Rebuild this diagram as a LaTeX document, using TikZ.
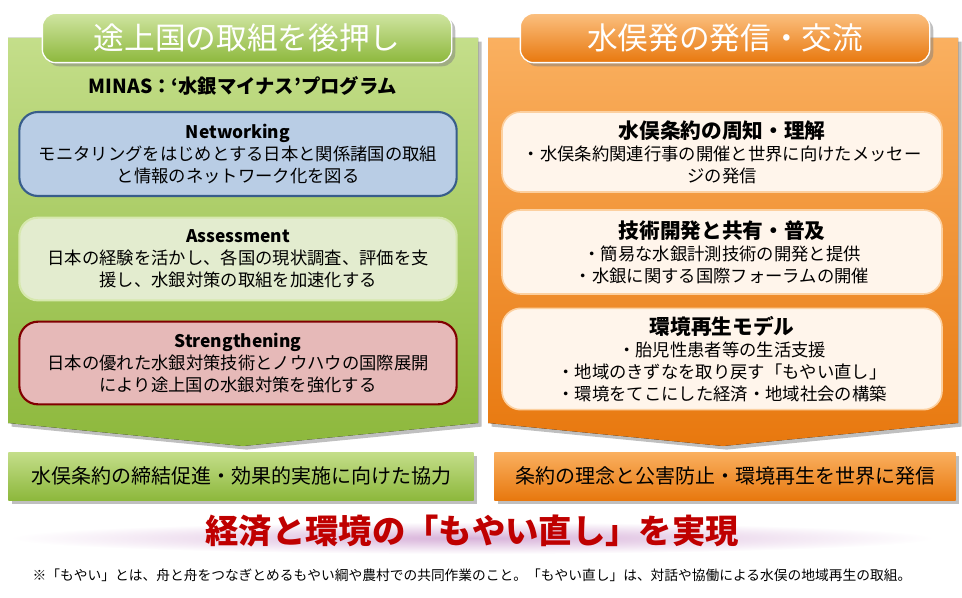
\documentclass[tikz,border=0pt]{standalone}
\usepackage{fontspec}
\setmainfont{Noto Sans CJK JP}
\usetikzlibrary{shadows}
\definecolor{grnA}{HTML}{C4DE8A}
\definecolor{grnB}{HTML}{8DB83C}
\definecolor{orgA}{HTML}{FAB060}
\definecolor{orgB}{HTML}{E8780E}
\definecolor{netFill}{HTML}{B9CDE5}
\definecolor{netLine}{HTML}{385D8A}
\definecolor{assFill}{HTML}{E3ECCF}
\definecolor{strFill}{HTML}{E6B9B8}
\tikzset{
  tabbox/.style={rounded corners=10pt, draw=white, line width=1pt, text=white, font=\fontsize{23}{26}\selectfont, drop shadow},
  leftbox/.style={rounded corners=14pt, line width=1.6pt, align=center, inner sep=2pt, font=\fontsize{13}{16.5}\selectfont},
  rightbox/.style={rounded corners=14pt, draw=orgA!60, line width=1.2pt, fill=orange!8, align=center, inner sep=2pt, font=\fontsize{13}{16.5}\selectfont},
  footbox/.style={font=\fontsize{15}{17}\selectfont, drop shadow}
}
\begin{document}
\begin{tikzpicture}[x=0.75pt, y=-0.75pt]
    \useasboundingbox (0,0) rectangle (962,598);
    % --- Big arrow panels ---
    \fill[top color=grnA, bottom color=grnB, drop shadow] (8,38) -- (478,38) -- (478,423) -- (243,446) -- (8,423) -- cycle;
    \fill[top color=orgA, bottom color=orgB, drop shadow] (488,38) -- (958,38) -- (958,423) -- (723,446) -- (488,423) -- cycle;
    % ---

    % --- Header tabs ---
    \node[tabbox, top color=grnA!80!white, bottom color=grnB, minimum width=307pt, minimum height=37pt] (tabL) at (247,38) {途上国の取組を後押し};
    \node[tabbox, top color=orgA!80!white, bottom color=orgB, minimum width=307pt, minimum height=37pt] (tabR) at (725,38) {水俣発の発信・交流};
    \node[font=\fontsize{14.5}{16}\selectfont\bfseries] (minas) at (243,86) {MINAS：‘水銀マイナス’プログラム};
    % ---

    % --- Left boxes ---
    \node[leftbox, draw=netLine, fill=netFill, minimum width=328pt, minimum height=63pt] (net) at (238,154)
        {\textbf{Networking}\\モニタリングをはじめとする日本と関係諸国の取組\\と情報のネットワーク化を図る};
    \node[leftbox, draw=grnA!70!white, fill=assFill, minimum width=328pt, minimum height=62pt] (ass) at (238,259)
        {\textbf{Assessment}\\日本の経験を活かし、各国の現状調査、評価を支\\援し、水銀対策の取組を加速化する};
    \node[leftbox, draw=red!50!black, fill=strFill, minimum width=328pt, minimum height=62pt] (str) at (238,363)
        {\textbf{Strengthening}\\日本の優れた水銀対策技術とノウハウの国際展開\\により途上国の水銀対策を強化する};
    % ---

    % --- Right boxes ---
    \node[rightbox, minimum width=330pt, minimum height=60pt] (shu) at (722,152)
        {{\fontsize{15.5}{19}\selectfont\bfseries 水俣条約の周知・理解}\\・水俣条約関連行事の開催と世界に向けたメッセー\\ジの発信};
    \node[rightbox, minimum width=330pt, minimum height=63pt] (gij) at (722,252)
        {{\fontsize{15.5}{19}\selectfont\bfseries 技術開発と共有・普及}\\・簡易な水銀計測技術の開発と提供\\・水銀に関する国際フォーラムの開催};
    \node[rightbox, minimum width=330pt, minimum height=76pt] (kan) at (722,359)
        {{\fontsize{15.5}{19}\selectfont\bfseries 環境再生モデル}\\・胎児性患者等の生活支援\\・地域のきずなを取り戻す「もやい直し」\\・環境をてこにした経済・地域社会の構築};
    % ---

    % --- Bottom boxes ---
    \node[footbox, top color=grnA, bottom color=grnB, minimum width=349pt, minimum height=36pt] (kyo) at (241,476) {水俣条約の締結促進・効果的実施に向けた協力};
    \node[footbox, top color=orgA, bottom color=orgB, minimum width=346pt, minimum height=36pt] (hat) at (725,476) {条約の理念と公害防止・環境再生を世界に発信};
    % ---

    % --- Banner and note ---
    \shade[inner color=blue!35!purple!30, outer color=white] (472,538) ellipse (462 and 16);
    \node[text=red!75!black, font=\fontsize{25}{28}\selectfont\bfseries] (ban) at (472,531) {経済と環境の「もやい直し」を実現};
    \node[font=\fontsize{10.3}{12}\selectfont, inner sep=0pt] (note) at (472,575) {※「もやい」とは、舟と舟をつなぎとめるもやい綱や農村での共同作業のこと。「もやい直し」は、対話や協働による水俣の地域再生の取組。};
    % ---
\end{tikzpicture}
\end{document}
